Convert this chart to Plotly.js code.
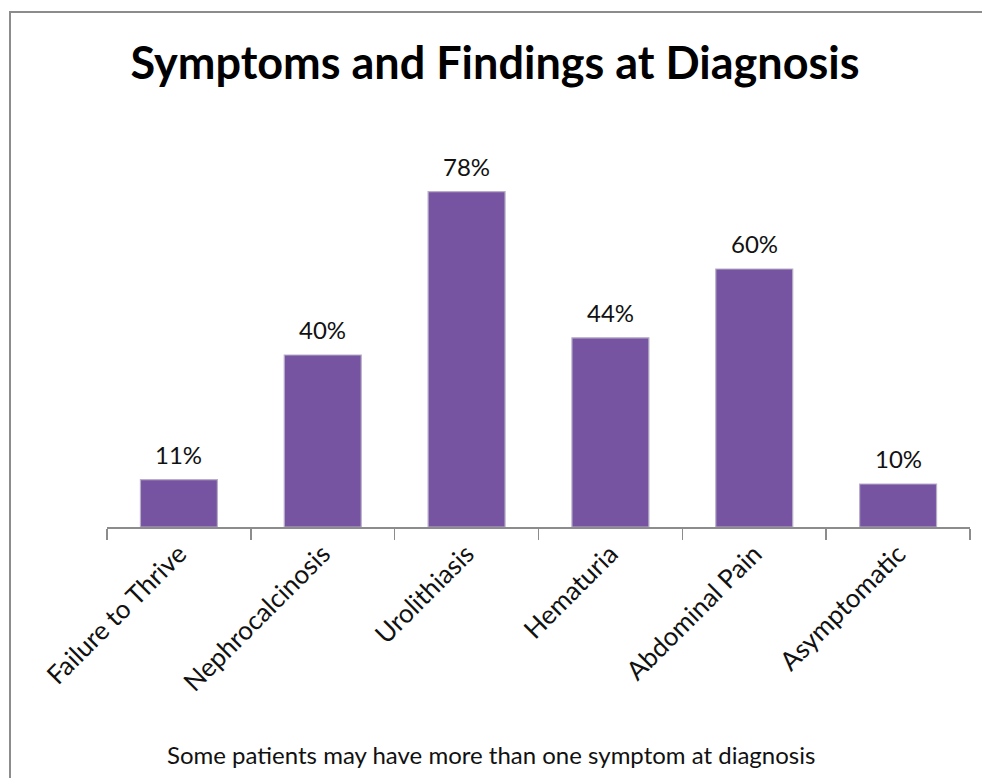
<!DOCTYPE html>
<html>
<head>
<meta charset="utf-8">
<script src="https://cdn.plot.ly/plotly-3.0.1.min.js"></script>
<style>
  html, body { margin: 0; padding: 0; background: #fff; }
  #wrap { position: relative; width: 982px; height: 778px; overflow: hidden; }
  #chart { width: 982px; height: 778px; }
  #frame { position: absolute; left: 9px; top: 11px; width: 990px; height: 800px;
           border-left: 2px solid #8c8c8c; border-top: 2px solid #8c8c8c; pointer-events: none; box-sizing: border-box; }
</style>
</head>
<body>
<div id="wrap"><div id="chart"></div><div id="frame"></div></div>
<script>
const categories = ["Failure to Thrive", "Nephrocalcinosis", "Urolithiasis", "Hematuria", "Abdominal Pain", "Asymptomatic"];
const percentValues = [11, 40, 78, 44, 60, 10];
const valueLabels = ["11%", "40%", "78%", "44%", "60%", "10%"];
const chartTitle = "Symptoms and Findings at Diagnosis";
const footnote = "Some patients may have more than one symptom at diagnosis";

const FONT = "Lato, Carlito, Calibri, 'Open Sans', sans-serif";

const trace = {
  type: "bar",
  x: categories,
  y: percentValues,
  marker: { color: "#7754a2", line: { color: "#b8aec8", width: 1.2 } },
  hoverinfo: "x+y"
};

const labelAnnotations = categories.map((c, i) => ({
  x: c, y: percentValues[i], xref: "x", yref: "y",
  text: valueLabels[i], showarrow: false,
  yanchor: "bottom", yshift: 9,
  font: { family: FONT, size: 24, color: "#111" }
}));

labelAnnotations.push({
  x: (491 - 107) / 863, xref: "paper", y: -0.589, yref: "paper",
  text: footnote, showarrow: false, yanchor: "middle", xanchor: "center",
  font: { family: FONT, size: 24, color: "#111" }
});

const layout = {
  width: 982, height: 778,
  margin: { l: 107, r: 12, t: 140, b: 251 },
  paper_bgcolor: "#fff", plot_bgcolor: "#fff",
  title: {
    text: "<b>" + chartTitle + "</b>",
    x: 495 / 982, xref: "container", xanchor: "center",
    y: 1 - 63 / 778, yref: "container", yanchor: "middle",
    font: { family: FONT, size: 45, color: "#000" }
  },
  bargap: 0.465,
  showlegend: false,
  xaxis: {
    type: "category",
    range: [-0.5, 5.5],
    showline: true, linecolor: "#8c8c8c", linewidth: 1.5,
    ticks: "outside", tickson: "boundaries", ticklen: 11, tickcolor: "#8c8c8c", tickwidth: 1.5,
    tickangle: -45,
    tickfont: { family: FONT, size: 26, color: "#111" },
    showgrid: false, zeroline: false
  },
  yaxis: {
    range: [0, 90],
    visible: false, showgrid: false, zeroline: false
  },
  annotations: labelAnnotations,
  font: { family: FONT }
};

Plotly.newPlot("chart", [trace], layout, { displayModeBar: false, staticPlot: true });
</script>
</body>
</html>
